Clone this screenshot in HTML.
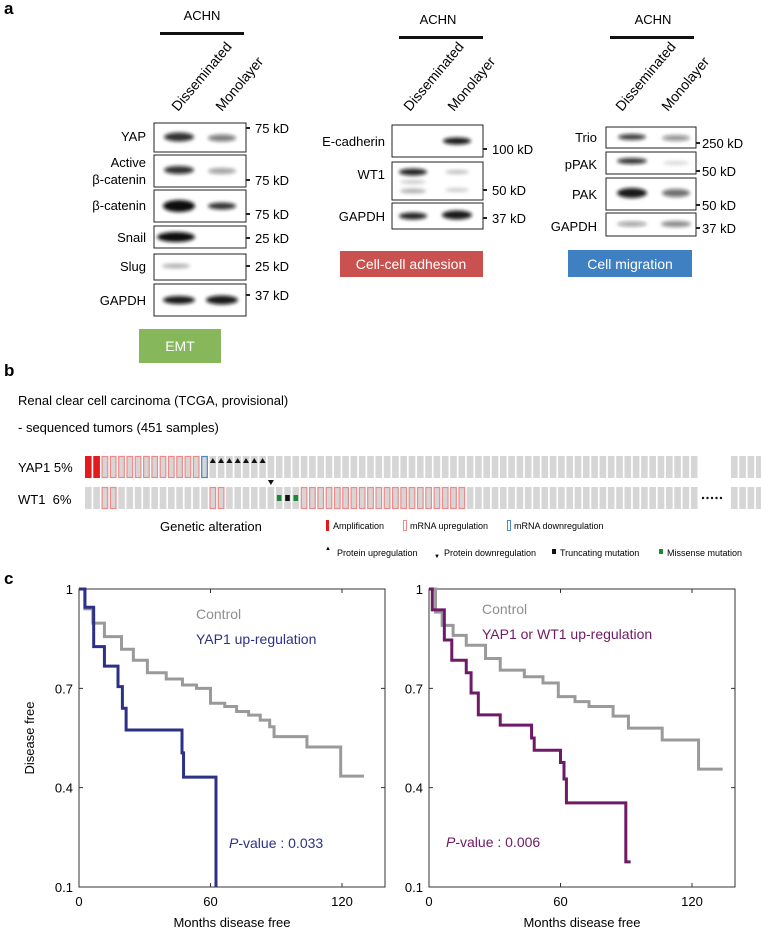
<!DOCTYPE html>
<html><head><meta charset="utf-8"><style>
body{margin:0;background:#fff}
svg{display:block;font-family:"Liberation Sans",sans-serif}
</style></head><body>
<svg id="fig" width="761" height="930" viewBox="0 0 761 930">
<defs><filter id="bl" x="-50%" y="-100%" width="200%" height="300%"><feGaussianBlur stdDeviation="1.8"/></filter></defs>
<!-- Panel a -->
<text x="4" y="14" font-size="17" font-weight="bold">a</text>
<g font-size="13">
 <text x="202" y="20" text-anchor="middle">ACHN</text>
 <rect x="160" y="32" width="84" height="3" fill="#111"/>
 <text transform="translate(178,112) rotate(-50)" font-size="14">Disseminated</text>
 <text transform="translate(222,112) rotate(-50)" font-size="14">Monolayer</text>
 <g fill="none" stroke="#222" stroke-width="1">
  <rect x="154" y="123" width="92" height="29"/><rect x="154" y="155" width="92" height="32"/>
  <rect x="154" y="190" width="92" height="32"/><rect x="154" y="226" width="92" height="22"/>
  <rect x="154" y="254" width="92" height="26"/><rect x="154" y="284" width="92" height="32"/>
 </g>
 <g filter="url(#bl)" fill="#111">
  <ellipse cx="179" cy="137" rx="15" ry="4.5" opacity=".85"/><ellipse cx="222" cy="138" rx="14" ry="3.5" opacity=".55"/>
  <ellipse cx="179" cy="170" rx="15" ry="4" opacity=".85"/><ellipse cx="222" cy="171" rx="14" ry="3" opacity=".4"/>
  <ellipse cx="179" cy="206" rx="16" ry="6" opacity="1"/><ellipse cx="222" cy="206" rx="14" ry="3.5" opacity=".85"/>
  <ellipse cx="176" cy="237" rx="19" ry="5" opacity="1"/>
  <ellipse cx="176" cy="266" rx="14" ry="2.5" opacity=".3"/>
  <ellipse cx="179" cy="300" rx="16" ry="4" opacity=".95"/><ellipse cx="222" cy="300" rx="16" ry="4.5" opacity=".95"/>
 </g>
 <g text-anchor="end">
  <text x="146" y="141">YAP</text><text x="146" y="167">Active</text><text x="146" y="184">β-catenin</text>
  <text x="146" y="210">β-catenin</text><text x="146" y="242">Snail</text><text x="146" y="271">Slug</text><text x="146" y="305">GAPDH</text>
 </g>
 <g>
  <text x="255" y="133">75 kD</text><text x="255" y="185">75 kD</text><text x="255" y="219">75 kD</text>
  <text x="255" y="243">25 kD</text><text x="255" y="271">25 kD</text><text x="255" y="300">37 kD</text>
 </g>
 <g stroke="#222" stroke-width="2"><path d="M246 128h4M246 180h4M246 214h4M246 238h4M246 266h4M246 295h4"/></g>
 <rect x="139" y="329" width="82" height="34" fill="#86b75a"/>
 <text x="180" y="351" text-anchor="middle" fill="#fff" font-size="14">EMT</text>
</g>
<g font-size="13">
 <text x="438" y="24" text-anchor="middle">ACHN</text>
 <rect x="399" y="36" width="84" height="3" fill="#111"/>
 <text transform="translate(410,112) rotate(-50)" font-size="14">Disseminated</text>
 <text transform="translate(454,112) rotate(-50)" font-size="14">Monolayer</text>
 <g fill="none" stroke="#222"><rect x="392" y="125" width="91" height="32"/><rect x="392" y="162" width="91" height="38"/><rect x="392" y="203" width="91" height="26"/></g>
 <g filter="url(#bl)" fill="#111">
  <ellipse cx="457" cy="141" rx="14" ry="3.5" opacity=".95"/>
  <ellipse cx="413" cy="172" rx="14" ry="3.5" opacity=".9"/><ellipse cx="413" cy="182" rx="13" ry="2" opacity=".2"/><ellipse cx="413" cy="191" rx="13" ry="2.5" opacity=".3"/>
  <ellipse cx="457" cy="172" rx="12" ry="2" opacity=".25"/><ellipse cx="457" cy="190" rx="12" ry="2" opacity=".2"/>
  <ellipse cx="413" cy="216" rx="14" ry="3.5" opacity=".9"/><ellipse cx="457" cy="215" rx="15" ry="4.5" opacity=".95"/>
 </g>
 <g text-anchor="end"><text x="385" y="146">E-cadherin</text><text x="385" y="179">WT1</text><text x="385" y="221">GAPDH</text></g>
 <g><text x="492" y="154">100 kD</text><text x="492" y="195">50 kD</text><text x="492" y="223">37 kD</text></g>
 <g stroke="#222" stroke-width="2"><path d="M483 149h4M483 190h4M483 218h4"/></g>
 <rect x="340" y="251" width="143" height="26" fill="#c9514f"/>
 <text x="411" y="269" text-anchor="middle" fill="#fff" font-size="14">Cell-cell adhesion</text>
</g>
<g font-size="13">
 <text x="653" y="24" text-anchor="middle">ACHN</text>
 <rect x="610" y="36" width="84" height="3" fill="#111"/>
 <text transform="translate(622,112) rotate(-50)" font-size="14">Disseminated</text>
 <text transform="translate(668,112) rotate(-50)" font-size="14">Monolayer</text>
 <g fill="none" stroke="#222"><rect x="606" y="127" width="90" height="21"/><rect x="606" y="152" width="90" height="22"/><rect x="606" y="178" width="90" height="32"/><rect x="606" y="213" width="90" height="23"/></g>
 <g filter="url(#bl)" fill="#111">
  <ellipse cx="632" cy="137" rx="14" ry="3" opacity=".8"/><ellipse cx="676" cy="138" rx="14" ry="3" opacity=".45"/>
  <ellipse cx="632" cy="161" rx="15" ry="3" opacity=".85"/><ellipse cx="676" cy="163" rx="13" ry="2" opacity=".15"/>
  <ellipse cx="632" cy="193" rx="15" ry="5" opacity=".95"/><ellipse cx="676" cy="193" rx="14" ry="4" opacity=".6"/>
  <ellipse cx="632" cy="224" rx="15" ry="2.5" opacity=".4"/><ellipse cx="676" cy="224" rx="15" ry="3" opacity=".5"/>
 </g>
 <g text-anchor="end"><text x="597" y="142">Trio</text><text x="597" y="169">pPAK</text><text x="597" y="199">PAK</text><text x="597" y="231">GAPDH</text></g>
 <g><text x="702" y="148">250 kD</text><text x="702" y="176">50 kD</text><text x="702" y="210">50 kD</text><text x="702" y="233">37 kD</text></g>
 <g stroke="#222" stroke-width="2"><path d="M696 143h4M696 171h4M696 205h4M696 228h4"/></g>
 <rect x="568" y="250" width="124" height="27" fill="#3f80c2"/>
 <text x="630" y="269" text-anchor="middle" fill="#fff" font-size="14">Cell migration</text>
</g>
<!-- Panel b -->
<text x="4" y="376" font-size="17" font-weight="bold">b</text>
<text x="18" y="405" font-size="13">Renal clear cell carcinoma (TCGA, provisional)</text>
<text x="18" y="432" font-size="13">- sequenced tumors (451 samples)</text>
<text x="18" y="472" font-size="13">YAP1 5%</text>
<text x="18" y="504" font-size="13">WT1&#160; 6%</text>
<g id="onco"></g>
<text x="160" y="531" font-size="13">Genetic alteration</text>
<g font-size="9">
 <rect x="326" y="520" width="3" height="11" fill="#e41a1c"/><text x="333" y="529">Amplification</text>
 <rect x="403.5" y="520.5" width="3" height="10" fill="none" stroke="#f08a8a"/><text x="410" y="529">mRNA upregulation</text>
 <rect x="507.5" y="520.5" width="3" height="10" fill="none" stroke="#4b88c7"/><text x="514" y="529">mRNA downregulation</text>
 <text x="325" y="550" font-size="6">▲</text><text x="337" y="556">Protein upregulation</text>
 <text x="434" y="558" font-size="6">▼</text><text x="444" y="556">Protein downregulation</text>
 <rect x="552" y="549" width="4" height="5" fill="#111"/><text x="560" y="556">Truncating mutation</text>
 <rect x="659" y="549" width="4" height="5" fill="#1a8a3a"/><text x="667" y="556">Missense mutation</text>
</g>
<!-- Panel c -->
<text x="4" y="584" font-size="17" font-weight="bold">c</text>
<g id="km1"></g>
<g id="km2"></g>
</svg>
<script>
// ---- Oncoprint data ----
const yapAlts = ["amp","amp","up","up","up","up","up","up","up","up","up","up","up","up","down","pu","pu","pu","pu","pu","pu","pu","pd"];
const wt1Up = [2,3,15,16,26,27,28,29,30,31,32,33,34,35,36,37,38,39,40,41,42,43,44,45];
const wt1Mut = [[23,"mis"],[24,"trunc"],[25,"mis"]];
// ---- KM data ----
const ctrl1Months = [0,2.7,6.3,11.6,19.4,24.8,31.2,39.8,47.2,53.6,60,66.5,71.9,77.4,82.7,87,89,104,119.4,130];
const ctrl1Surv   = [1,0.94,0.897,0.856,0.818,0.785,0.747,0.728,0.71,0.70,0.655,0.645,0.63,0.619,0.604,0.584,0.554,0.523,0.435,0.435];
const yapMonths = [0,2.7,6.7,11.6,17.8,19.8,21.5,47,47.7,62.5];
const yapSurv   = [1,0.945,0.826,0.767,0.705,0.64,0.574,0.505,0.432,0.1];
const ctrl2Months = [0,3,6,11,17,25.8,32.5,43.5,52,59,66.6,73,84,91,106.4,123,134];
const ctrl2Surv   = [1,0.93,0.89,0.86,0.83,0.79,0.755,0.735,0.716,0.675,0.66,0.645,0.616,0.58,0.544,0.456,0.456];
const bothMonths = [0,1.5,7,10.4,17,19.2,22.5,32.5,46.8,48,60,61.6,62.7,89.8,92];
const bothSurv   = [1,0.937,0.846,0.785,0.747,0.686,0.62,0.589,0.55,0.513,0.476,0.426,0.354,0.176,0.176];
const xTicks = [0,60,120];
const yTicks = [1,0.7,0.4,0.1];

const NS="http://www.w3.org/2000/svg";
function mk(tag,attrs,parent){const e=document.createElementNS(NS,tag);for(const k in attrs)e.setAttribute(k,attrs[k]);parent.appendChild(e);return e;}

// Oncoprint
const onco=document.getElementById('onco');
const pitch=8.3, cw=6.6, c0=85;
const colX=i=> i<74 ? c0+i*pitch : 731+(i-74)*pitch;
const rows=[[456,22],[487,22]];
for(let r=0;r<2;r++){for(let i=0;i<78;i++){
  const c=mk('rect',{x:colX(i),y:rows[r][0],width:cw,height:rows[r][1],fill:'#d6d6d6'},onco);
  
  
}}
yapAlts.forEach((a,i)=>{
  const x=colX(i),y=rows[0][0];
  if(a==="amp"){const e=mk('rect',{x:x,y:y,width:cw,height:22,fill:'#e41a1c'},onco);}
  else if(a==="up"||a==="down"){const e=mk('rect',{x:x+0.5,y:y+0.5,width:cw-1,height:21,fill:'#d6d6d6',stroke:a==="up"?'#f08a8a':'#4b88c7','stroke-width':1.2},onco);}
  else if(a==="pu"){const e=mk('path',{d:`M${x+cw/2} ${y+2}l3 5h-6z`,fill:'#111'},onco);}
  else if(a==="pd"){const e=mk('path',{d:`M${x+cw/2} ${y+29}l3 -5h-6z`,fill:'#111'},onco);}
});
wt1Up.forEach(i=>{const e=mk('rect',{x:colX(i)+0.5,y:rows[1][0]+0.5,width:cw-1,height:21,fill:'#d6d6d6',stroke:'#f08a8a','stroke-width':1.2},onco);});
wt1Mut.forEach(([i,t])=>{const e=mk('rect',{x:colX(i)+1,y:rows[1][0]+8,width:cw-2,height:6,fill:t==="mis"?'#1a8a3a':'#111'},onco);});
for(let k=0;k<5;k++){mk('circle',{cx:703+k*4.5,cy:498,r:1.2,fill:'#111'},onco);}

// KM plots
function km(g,left,ctrlM,ctrlS,grpM,grpS,grpCol,grpLabel,pText,pX,pY,lblX,lblY,showYTitle){
  const right=left+306, top=589, bottom=887;
  const xs=m=>left+m*(131.5/60), ys=v=>top+(1-v)*(bottom-top)/0.9;
  const fr=mk('rect',{x:left,y:top,width:306,height:bottom-top,fill:'none',stroke:'#333','stroke-width':1},g);
  
  xTicks.forEach(t=>{const x=xs(t);mk('path',{d:`M${x} ${bottom}v-4M${x} ${top}v4`,stroke:'#333'},g);
    const tl=mk('text',{x:x,y:906,'text-anchor':'middle','font-size':13},g);tl.textContent=t;});
  yTicks.forEach(t=>{const y=ys(t);mk('path',{d:`M${left} ${y}h4M${right} ${y}h-4`,stroke:'#333'},g);
    const tl=mk('text',{x:left-6,y:y+5,'text-anchor':'end','font-size':13},g);tl.textContent=t;});
  const step=(M,S)=>{let d=`M${xs(M[0])} ${ys(S[0])}`;for(let i=1;i<M.length;i++){d+=`H${xs(M[i])}V${ys(Math.max(S[i],0.1))}`;}return d;};
  const c=mk('path',{d:step(ctrlM,ctrlS),fill:'none',stroke:'#9a9a9a','stroke-width':3},g);
  
  const p=mk('path',{d:step(grpM,grpS),fill:'none',stroke:grpCol,'stroke-width':3},g);
  
  const t1=mk('text',{x:lblX,y:lblY,'font-size':14,fill:'#8f8f8f'},g);t1.textContent='Control';
  const t2=mk('text',{x:lblX,y:lblY+25,'font-size':14,fill:grpCol},g);t2.textContent=grpLabel;
  const t3=mk('text',{x:pX,y:pY,'font-size':14,fill:grpCol},g);t3.innerHTML='<tspan font-style="italic">P</tspan>-value : '+pText;
  const xt=mk('text',{x:left+153,y:927,'text-anchor':'middle','font-size':13},g);xt.textContent='Months disease free';
  if(showYTitle){
    const yt=mk('text',{transform:`translate(${left-45},738) rotate(-90)`,'text-anchor':'middle','font-size':13},g);yt.textContent='Disease free';
  }
}
km(document.getElementById('km1'),79,ctrl1Months,ctrl1Surv,yapMonths,yapSurv,'#2c3187','YAP1 up-regulation','0.033',229,848,196,619,true);
km(document.getElementById('km2'),429,ctrl2Months,ctrl2Surv,bothMonths,bothSurv,'#6e1a66','YAP1 or WT1 up-regulation','0.006',446,847,482,614,false);
</script>
</body></html>
